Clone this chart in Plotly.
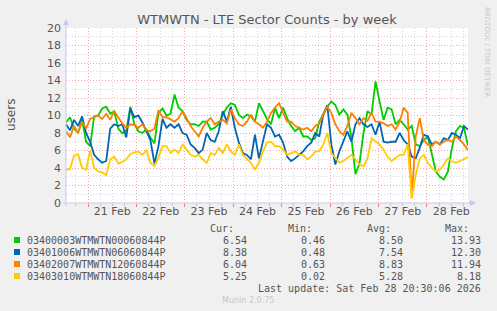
import plotly.graph_objects as go
import pandas as pd

# ---------------- data ----------------
t_start = "2026-02-20 13:05"
t_end = "2026-02-28 20:20"
n_points = 101

series_names = [
    "03400003WTMWTN00060844P",
    "03401006WTMWTN06060844P",
    "03402007WTMWTN12060844P",
    "03403010WTMWTN18060844P",
]
series_colors = ["#00CC00", "#0066B3", "#FF8000", "#FFCC00"]

green = [9.2, 9.8, 8.5, 8.0, 9.5, 7.0, 6.5, 9.9, 10.0, 10.8, 11.0, 10.2, 10.5, 8.5, 8.0, 8.3, 11.0, 9.0, 8.2, 8.0,
         8.4, 7.5, 6.8, 10.3, 10.8, 10.0, 10.2, 12.4, 10.9, 10.5, 9.5, 9.0, 9.0, 8.8, 9.3, 9.3, 8.4, 8.6, 9.0, 10.1,
         10.9, 11.4, 11.2, 10.1, 9.7, 10.1, 9.9, 9.3, 11.4, 10.5, 9.6, 9.0, 10.9, 9.7, 10.9, 9.7, 8.8, 8.2, 8.6, 7.6,
         7.6, 7.2, 7.4, 9.3, 10.1, 11.0, 11.6, 11.2, 10.1, 10.7, 10.1, 7.4, 3.3, 4.5, 8.0, 10.5, 10.1, 13.9, 11.6, 9.5,
         10.9, 10.7, 9.0, 9.5, 9.0, 8.4, 8.8, 6.7, 6.5, 7.2, 7.6, 5.5, 3.6, 3.0, 2.7, 3.6, 6.3, 8.2, 8.8, 8.6, 6.54]
blue = [9.0, 8.3, 9.5, 8.8, 9.9, 8.0, 7.0, 5.5, 5.0, 4.6, 4.8, 8.5, 9.0, 8.8, 9.0, 7.5, 10.8, 9.8, 10.0, 9.2,
        8.2, 7.2, 4.5, 6.5, 9.6, 8.6, 9.0, 8.6, 9.0, 8.0, 7.8, 6.7, 6.3, 5.7, 6.1, 8.0, 7.2, 7.0, 8.2, 10.5,
        9.3, 11.0, 8.6, 6.9, 5.7, 5.5, 5.0, 7.8, 5.1, 7.0, 9.0, 8.6, 7.6, 7.8, 6.9, 5.3, 4.8, 5.1, 5.5, 5.9,
        6.5, 6.9, 8.0, 7.6, 10.1, 11.2, 6.7, 4.4, 5.9, 7.0, 8.2, 7.0, 9.0, 9.7, 9.0, 8.7, 9.0, 7.8, 9.3, 7.0,
        6.9, 7.0, 7.0, 8.0, 7.2, 6.7, 5.3, 5.1, 6.3, 7.8, 7.6, 6.7, 7.0, 6.7, 7.4, 7.2, 8.0, 7.8, 7.4, 8.8, 8.38]
orange = [8.2, 7.5, 8.8, 8.0, 9.3, 8.5, 9.6, 9.8, 10.0, 9.6, 10.2, 9.5, 10.5, 9.8, 9.1, 8.6, 9.0, 8.9, 8.6, 9.0,
          8.3, 8.2, 8.5, 10.6, 9.8, 9.8, 9.5, 9.3, 9.7, 10.5, 9.7, 8.8, 8.2, 7.6, 8.6, 9.3, 9.7, 9.0, 9.3, 9.5,
          9.1, 10.7, 9.7, 9.0, 8.8, 9.3, 10.1, 9.3, 9.0, 8.6, 9.3, 10.3, 10.9, 11.4, 10.3, 9.3, 9.3, 8.8, 8.6, 8.4,
          8.6, 8.2, 8.8, 9.1, 10.1, 11.0, 10.3, 9.0, 8.2, 7.8, 8.8, 10.3, 9.7, 9.0, 9.7, 9.4, 10.3, 9.3, 9.3, 9.1,
          8.8, 9.0, 8.4, 9.3, 10.9, 10.3, 0.63, 7.6, 9.7, 7.2, 6.7, 6.5, 7.0, 6.7, 7.0, 7.2, 7.0, 7.6, 7.2, 6.7, 6.04]
yellow = [3.8, 3.9, 5.4, 5.6, 4.0, 3.8, 6.0, 4.0, 3.6, 3.5, 3.2, 5.0, 5.3, 4.5, 4.7, 5.0, 5.6, 5.8, 5.9, 5.5,
          6.0, 4.6, 4.2, 5.2, 6.5, 6.5, 5.7, 6.1, 5.7, 6.7, 6.1, 5.5, 5.3, 5.5, 5.0, 4.6, 5.7, 5.5, 6.3, 5.7,
          6.7, 5.9, 5.5, 6.7, 5.5, 5.0, 4.6, 3.8, 4.6, 5.9, 6.9, 7.0, 6.5, 6.5, 6.1, 5.5, 5.7, 5.9, 5.5, 5.5,
          5.0, 5.3, 5.9, 5.9, 6.7, 8.0, 5.7, 5.1, 4.6, 4.8, 5.1, 5.5, 5.0, 4.4, 4.2, 5.1, 7.4, 7.0, 6.7, 6.1,
          5.3, 4.8, 5.1, 5.5, 5.5, 6.7, 0.5, 3.2, 5.1, 5.5, 4.6, 4.0, 3.6, 3.8, 4.4, 5.1, 4.8, 4.6, 4.8, 5.0, 5.25]
series_values = [green, blue, orange, yellow]

stat_cur = ["6.54", "8.38", "6.04", "5.25"]
stat_min = ["0.46", "0.48", "0.63", "0.02"]
stat_avg = ["8.50", "7.54", "8.83", "5.28"]
stat_max = ["13.93", "12.30", "11.94", "8.18"]

day_labels = ["21 Feb", "22 Feb", "23 Feb", "24 Feb", "25 Feb", "26 Feb", "27 Feb", "28 Feb"]
day_label_pos = pd.date_range("2026-02-21 12:00", periods=len(day_labels), freq="1D")

title_text = "WTMWTN - LTE Sector Counts - by week"
last_update = "Last update: Sat Feb 28 20:30:06 2026"

# ---------------- layout helpers ----------------
W, H = 497, 311
L, R, T, B = 66, 468, 28, 203


def px(x):
    return (x - L) / (R - L)


def py(y):
    return (B - y) / (B - T)


times = pd.date_range(t_start, t_end, periods=n_points)

fig = go.Figure()
for name, col, vals in zip(series_names, series_colors, series_values):
    fig.add_trace(go.Scatter(x=times, y=vals, mode="lines", name=name,
                             line=dict(color=col, width=1.8), showlegend=False))
# invisible trace for label axis
fig.add_trace(go.Scatter(x=[times[0]], y=[0], xaxis="x2", mode="markers",
                         marker=dict(opacity=0), showlegend=False, hoverinfo="skip"))

major_grid = "#F0A8A8"
minor_grid = "#D6D6D6"
axis_col = "#C8C8F0"
text_col = "#555555"

fig.update_layout(
    width=W, height=H,
    margin=dict(l=L, r=W - R, t=T, b=H - B),
    paper_bgcolor="#F0F0F0",
    plot_bgcolor="#FFFFFF",
    font=dict(family="DejaVu Sans", size=11, color=text_col),
    title=dict(text=title_text, x=0.5, xanchor="center", xref="paper",
               y=1 - 19 / H, yanchor="middle",
               font=dict(family="DejaVu Sans", size=13, color=text_col)),
    xaxis=dict(
        range=[t_start, t_end], type="date",
        tickmode="linear", tick0="2026-02-21 00:00", dtick=86400000,
        showticklabels=False, ticks="outside", ticklen=3, tickcolor="#E08080",
        showgrid=True, gridcolor=major_grid, gridwidth=1, griddash="1px,2px",
        minor=dict(dtick=6 * 3600000, tick0="2026-02-21 00:00", showgrid=True,
                   gridcolor=minor_grid, griddash="1px,2px", ticks="outside",
                   ticklen=2, tickcolor="#C0C0C0"),
        showline=False, zeroline=False, fixedrange=True,
    ),
    xaxis2=dict(
        range=[t_start, t_end], type="date", overlaying="x", anchor="y", side="bottom",
        tickmode="array", tickvals=list(day_label_pos), ticktext=day_labels,
        showgrid=False, ticks="", showline=False, zeroline=False,
        tickfont=dict(family="DejaVu Sans", size=11, color=text_col),
    ),
    yaxis=dict(
        range=[0, 20], tickmode="linear", tick0=0, dtick=2,
        showgrid=True, gridcolor=major_grid, gridwidth=1, griddash="1px,2px",
        minor=dict(dtick=1, showgrid=True, gridcolor=minor_grid, griddash="1px,2px"),
        zeroline=False, showline=False, ticks="",
        tickfont=dict(family="DejaVu Sans", size=11, color=text_col),
        ticklabelstandoff=4, fixedrange=True,
    ),
)

shapes = []
# axis lines
shapes.append(dict(type="line", xref="paper", yref="paper", x0=px(L), x1=px(L), y0=py(B + 3), y1=py(T - 4),
                   line=dict(color=axis_col, width=1)))
shapes.append(dict(type="line", xref="paper", yref="paper", x0=px(L - 3), x1=px(R + 4), y0=py(B), y1=py(B),
                   line=dict(color=axis_col, width=1)))
# arrows
shapes.append(dict(type="path", xref="paper", yref="paper",
                   path=f"M {px(L-3)} {py(T-3)} L {px(L+3)} {py(T-3)} L {px(L)} {py(T-9)} Z",
                   fillcolor=axis_col, line=dict(width=0)))
shapes.append(dict(type="path", xref="paper", yref="paper",
                   path=f"M {px(R+2)} {py(B-3)} L {px(R+2)} {py(B+3)} L {px(R+8)} {py(B)} Z",
                   fillcolor=axis_col, line=dict(width=0)))

annotations = []
mono = "DejaVu Sans Mono"
row_y = [240, 252, 264, 276]
for i, (name, col) in enumerate(zip(series_names, series_colors)):
    y = row_y[i]
    shapes.append(dict(type="rect", xref="paper", yref="paper",
                       x0=px(14), x1=px(20), y0=py(y + 3), y1=py(y - 3),
                       fillcolor=col, line=dict(width=0)))
    annotations.append(dict(text=name, x=px(25), y=py(y), xref="paper", yref="paper",
                            xanchor="left", yanchor="middle", showarrow=False,
                            font=dict(family=mono, size=10, color=text_col)))
    for val, xr in zip([stat_cur[i], stat_min[i], stat_avg[i], stat_max[i]], [249, 327, 405, 483]):
        annotations.append(dict(text=val, x=px(xr), y=py(y), xref="paper", yref="paper",
                                xanchor="right", yanchor="middle", showarrow=False,
                                font=dict(family=mono, size=10, color=text_col)))
for hdr, xr in zip(["Cur:", "Min:", "Avg:", "Max:"], [236, 314, 393, 471]):
    annotations.append(dict(text=hdr, x=px(xr), y=py(228), xref="paper", yref="paper",
                            xanchor="right", yanchor="middle", showarrow=False,
                            font=dict(family=mono, size=10, color=text_col)))
annotations.append(dict(text=last_update, x=px(483), y=py(288), xref="paper", yref="paper",
                        xanchor="right", yanchor="middle", showarrow=False,
                        font=dict(family=mono, size=10, color=text_col)))
annotations.append(dict(text="Munin 2.0.75", x=px(248), y=py(300), xref="paper", yref="paper",
                        xanchor="center", yanchor="middle", showarrow=False,
                        font=dict(family="DejaVu Sans", size=8, color="#C8C8C8")))
annotations.append(dict(text="RRDTOOL / TOBI OETIKER", x=px(487), y=py(52), xref="paper", yref="paper",
                        xanchor="center", yanchor="middle", showarrow=False, textangle=90,
                        font=dict(family="DejaVu Sans", size=7, color="#C8C8C8")))
annotations.append(dict(text="users", x=px(11), y=py(115), xref="paper", yref="paper",
                        xanchor="center", yanchor="middle", showarrow=False, textangle=-90,
                        font=dict(family="DejaVu Sans", size=12, color=text_col)))

fig.update_layout(shapes=shapes, annotations=annotations)
fig.write_html("out.html", config={"displayModeBar": False},
               post_script="document.body.style.margin='0px';")
